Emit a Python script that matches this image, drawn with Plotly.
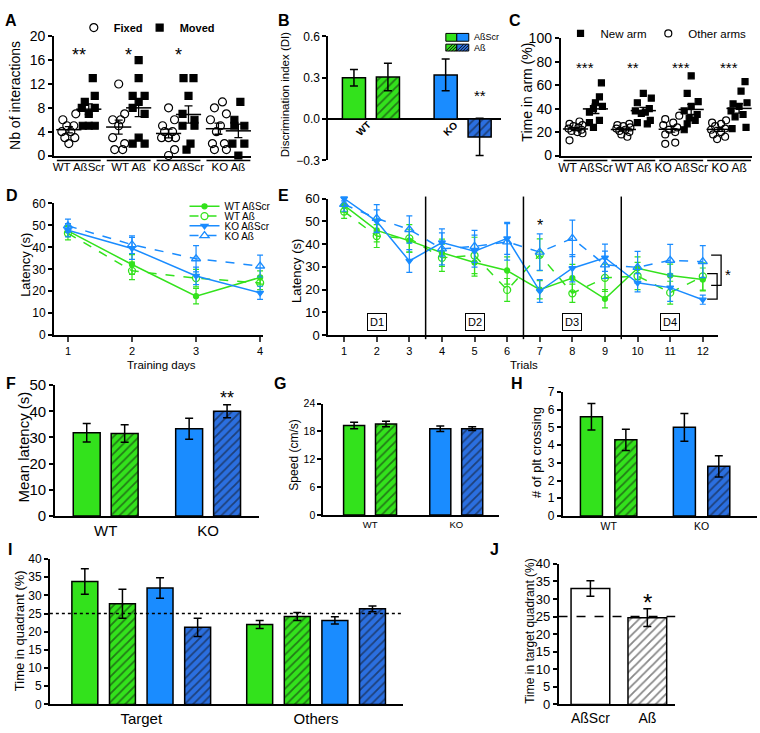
import numpy as np
import plotly.graph_objects as go

W, H = 760, 733
GREEN = "#33e21c"
BLUE = "#1a8cff"
BLUE_DARK = "#2b6fe0"
FONT = "Liberation Sans, Arial, sans-serif"

# ---------------- data ----------------
groups = ["WT AßScr", "WT Aß", "KO AßScr", "KO Aß"]

# A: nb of interactions, fixed vs moved object (one list per group)
a_fixed = [[7, 6, 5, 5, 4, 4, 3, 3, 2],
           [12, 7, 6, 6, 5, 3, 2, 1, 1],
           [8, 6, 5, 4, 4, 3, 3, 3, 1, 0],
           [9, 8, 7, 6, 5, 4, 2, 2, 1, 1]]
a_fixed_jit = [[0.35, -0.3, -0.1, 0.25, -0.35, 0.1, -0.2, 0.3, 0.0],
               [0.0, 0.3, -0.3, 0.1, 0.0, -0.3, 0.3, -0.2, 0.2],
               [0.0, 0.3, -0.3, -0.2, 0.2, -0.35, 0.0, 0.35, 0.3, 0.0],
               [0.2, -0.2, 0.4, -0.4, 0.1, -0.1, -0.3, 0.3, -0.2, 0.4]]
a_moved = [[13, 10, 9, 8, 8, 7, 5, 5, 5],
           [16, 13, 10, 10, 9, 8, 7, 3, 2, 2],
           [13, 13, 10, 7, 6, 5, 5, 2, 1],
           [9, 6, 5, 5, 2, 2, 0]]
a_moved_jit = [[0.2, 0.3, -0.2, -0.35, 0.3, 0.0, -0.3, 0.0, 0.3],
               [0.0, 0.0, -0.3, 0.3, 0.0, -0.3, 0.3, 0.0, -0.3, 0.3],
               [-0.25, 0.25, 0.0, -0.3, 0.3, -0.3, 0.3, 0.1, -0.1],
               [0.1, -0.2, 0.3, -0.2, -0.3, 0.3, 0.0]]
a_stars = ["**", "*", "*", ""]

# B: discrimination index
b_di = [0.30, 0.305, 0.32, -0.13]
b_sem = [0.06, 0.10, 0.115, 0.135]

# C: time in arm (%)
c_other = [[29, 27, 26, 25, 24, 23, 22, 21, 20, 19, 13],
           [27, 26, 25, 24, 23, 22, 21, 20, 18, 16],
           [34, 31, 28, 26, 24, 22, 20, 18, 11, 10],
           [30, 28, 27, 25, 23, 22, 20, 18, 16, 14]]
c_other_jit = [[0.2, -0.3, 0.35, -0.1, 0.15, -0.35, 0.3, -0.2, 0.1, 0.35, -0.3],
               [0.3, -0.3, 0.0, 0.35, -0.35, 0.1, -0.2, 0.3, -0.1, 0.2],
               [0.4, -0.3, 0.1, -0.4, 0.3, -0.1, 0.2, -0.3, 0.2, -0.3],
               [0.35, -0.35, 0.1, -0.2, 0.3, -0.4, 0.1, -0.3, 0.3, -0.1]]
c_new = [[62, 50, 45, 42, 40, 37, 30, 28, 24],
         [53, 49, 45, 40, 38, 37, 36, 30, 28, 27],
         [68, 53, 46, 42, 38, 35, 32, 30, 27, 22],
         [63, 55, 45, 44, 42, 38, 35, 33, 24, 23]]
c_new_jit = [[0.3, 0.2, 0.0, 0.35, -0.1, -0.3, 0.2, -0.3, -0.1],
             [0.0, 0.4, -0.3, 0.3, -0.4, 0.1, -0.1, 0.35, -0.3, 0.2],
             [0.0, -0.2, 0.35, 0.0, -0.35, 0.3, -0.1, 0.2, -0.2, -0.35],
             [0.3, 0.1, 0.4, -0.3, 0.0, -0.4, 0.2, -0.2, 0.35, -0.35]]
c_stars = ["***", "**", "***", "***"]

# D: latency per training day
days = [1, 2, 3, 4]
d_lat = [[47.5, 32.2, 17.8, 26.3],
         [46.4, 29.3, 26.0, 23.8],
         [47.8, 39.5, 27.0, 19.3],
         [49.8, 41.2, 34.8, 31.5]]
d_sem = [[2.5, 4.5, 3.5, 3.0],
         [3.0, 4.0, 4.0, 3.0],
         [3.0, 5.0, 4.0, 3.0],
         [3.0, 4.0, 6.0, 5.0]]

# E: latency per trial
trials = list(range(1, 13))
e_lat = [[57, 46, 41.5, 36.2, 31.9, 28.4, 20, 25.1, 16, 29.4, 26.2, 24.5],
         [54.3, 43.5, 42.5, 34, 35, 19.9, 35.3, 18.4, 25.2, 26, 18.7, 25.8],
         [60, 50, 32.6, 40.7, 36.9, 42.5, 19.4, 29.4, 34, 23, 20.9, 15.6],
         [57.4, 51.3, 46.4, 37.9, 39, 41, 36.5, 42.5, 30.9, 29.8, 32.9, 32.3]]
e_sem = [[3, 5, 5, 6, 6, 6, 4, 6, 4, 5, 5, 5],
         [3, 5, 6, 6, 8, 5, 7, 4, 6, 6, 5, 6],
         [1, 5, 5, 6, 7, 7, 5, 6, 6, 4, 6, 2],
         [3, 6, 6, 7, 7, 8, 8, 8, 6, 7, 7, 7]]
day_labels = ["D1", "D2", "D3", "D4"]

# F, G, H: bar panels
f_lat = [31.8, 31.5, 33.3, 40.0]
f_sem = [3.5, 3.3, 4.0, 2.5]
g_speed = [19.3, 19.6, 18.6, 18.6]
g_sem = [0.7, 0.6, 0.6, 0.4]
h_cross = [5.6, 4.3, 5.0, 2.8]
h_sem = [0.75, 0.6, 0.78, 0.6]

# I: time in quadrant
i_target = [33.8, 27.7, 32.0, 21.2]
i_target_sem = [3.5, 4.0, 2.8, 2.5]
i_others = [22.0, 24.2, 23.1, 26.3]
i_others_sem = [1.1, 1.1, 1.0, 0.8]

# J: time in target quadrant
j_cond = ["AßScr", "Aß"]
j_time = [33.0, 24.7]
j_sem = [2.2, 2.5]

# ---------------- layout helpers ----------------
def pxx(v):
    return v / W


def pxy(v):
    return 1 - v / H


# pixel box of each plot area + axis ranges
P = {
    1: dict(xd=(52, 250), yd=(150, 28), xr=(-0.75, 9.15), yr=(0, 20)),
    2: dict(xd=(327, 500), yd=(155, 28), xr=(-0.76, 4.32), yr=(-0.3, 0.6)),
    3: dict(xd=(560, 752), yd=(150, 30), xr=(-0.75, 8.85), yr=(0, 100)),
    4: dict(xd=(52, 262), yd=(334, 199), xr=(0.78, 4.05), yr=(0, 60)),
    5: dict(xd=(327, 718), yd=(334, 194), xr=(0.51, 12.47), yr=(0, 60)),
    6: dict(xd=(53, 258), yd=(519, 385), xr=(-0.84, 4.55), yr=(0, 50)),
    7: dict(xd=(322, 498), yd=(518, 404), xr=(-0.97, 4.53), yr=(0, 24)),
    8: dict(xd=(562, 757), yd=(519, 392), xr=(-0.84, 4.81), yr=(0, 7)),
    9: dict(xd=(48, 402), yd=(712, 563), xr=(-0.93, 8.46), yr=(0, 40)),
    10: dict(xd=(558, 675), yd=(712, 568), xr=(-0.56, 1.49), yr=(0, 40)),
}


def sfx(n):
    return "" if n == 1 else str(n)


def fx(n, v):
    p = P[n]
    x0, x1 = pxx(p["xd"][0]), pxx(p["xd"][1])
    return x0 + (v - p["xr"][0]) / (p["xr"][1] - p["xr"][0]) * (x1 - x0)


fig = go.Figure()
layout = dict(width=W, height=H, margin=dict(l=0, r=0, t=0, b=0),
              paper_bgcolor="white", plot_bgcolor="white", barmode="overlay",
              font=dict(family=FONT, color="black"), showlegend=True)

for n, p in P.items():
    s = sfx(n)
    layout["xaxis" + s] = dict(domain=[pxx(p["xd"][0]), pxx(p["xd"][1])], range=list(p["xr"]),
                               anchor="y" + s, showline=True, linecolor="black", linewidth=1.5,
                               showgrid=False, zeroline=False, ticks="", showticklabels=False,
                               fixedrange=True)
    layout["yaxis" + s] = dict(domain=[pxy(p["yd"][0]), pxy(p["yd"][1])], range=list(p["yr"]),
                               anchor="x" + s, showline=True, linecolor="black", linewidth=1.5,
                               showgrid=False, zeroline=False, ticks="outside", ticklen=4,
                               tickwidth=1.5, tickcolor="black", fixedrange=True)

ytick = {1: (4, 14), 2: (0.3, 12), 3: (20, 14), 4: (10, 12), 5: (10, 13),
         6: (10, 15), 7: (6, 10.5), 8: (1, 12), 9: (5, 12), 10: (5, 13)}
for n, (dt, sz) in ytick.items():
    layout["yaxis" + sfx(n)].update(dtick=dt, tick0=0, tickfont=dict(size=sz))
layout["yaxis2"].update(tickformat=".1f", zeroline=True, zerolinecolor="black", zerolinewidth=1.5)
layout["xaxis2"].update(showline=False)

A_STEP, C_STEP = 2.5, 2.4
BAR_X = [0, 1, 2.7, 3.7]

layout["xaxis"].update(showticklabels=True, tickvals=[g * A_STEP + 0.5 for g in range(4)],
                       ticktext=groups, tickfont=dict(size=11.5), ticklabelstandoff=0)
layout["xaxis3"].update(showticklabels=True, tickvals=[g * C_STEP + 0.5 for g in range(4)],
                        ticktext=groups, tickfont=dict(size=12), ticklabelstandoff=0)
layout["xaxis4"].update(showticklabels=True, tickvals=days, ticks="outside", ticklen=5,
                        tickwidth=1.5, tickfont=dict(size=11))
layout["xaxis5"].update(showticklabels=True, tickvals=trials, ticks="outside", ticklen=5,
                        tickwidth=1.5, tickfont=dict(size=11))
for n, sz in [(6, 15), (7, 9.5), (8, 10.5)]:
    layout["xaxis" + sfx(n)].update(showticklabels=True, tickvals=[0.5, 3.2],
                                    ticktext=["WT", "KO"], tickfont=dict(size=sz))
layout["xaxis9"].update(showticklabels=True, tickvals=[1.5, 6.15],
                        ticktext=["Target", "Others"], tickfont=dict(size=15),
                        ticklabelstandoff=0)
layout["xaxis10"].update(showticklabels=True, tickvals=[0, 1], ticktext=j_cond,
                         tickfont=dict(size=14), ticklabelstandoff=0)


def mean_sem(vals, x, n, width=18):
    v = np.array(vals, float)
    m, s = v.mean(), v.std(ddof=1) / np.sqrt(len(v))
    fig.add_trace(go.Scatter(
        x=[x], y=[m], mode="markers", showlegend=False, cliponaxis=False,
        marker=dict(symbol="line-ew-open", size=width, color="black",
                    line=dict(width=1.5, color="black")),
        error_y=dict(type="data", array=[s], color="black", thickness=1.3, width=4),
        xaxis="x" + sfx(n), yaxis="y" + sfx(n)))


def dots(vals, jit, x, n, symbol, size, name, legend, show):
    fig.add_trace(go.Scatter(
        x=[x + j for j in jit], y=vals, mode="markers", name=name, legend=legend,
        showlegend=show, cliponaxis=False,
        marker=dict(symbol=symbol, size=size, color="black", line=dict(width=1.2, color="black")),
        xaxis="x" + sfx(n), yaxis="y" + sfx(n)))


# ---- A ----
for g in range(4):
    dots(a_fixed[g], a_fixed_jit[g], g * A_STEP, 1, "circle-open", 8, "Fixed", "legend5", g == 0)
    dots(a_moved[g], a_moved_jit[g], g * A_STEP + 1, 1, "square", 7, "Moved", "legend6", g == 0)
    mean_sem(a_fixed[g], g * A_STEP, 1)
    mean_sem(a_moved[g], g * A_STEP + 1, 1)

# ---- C ----
for g in range(4):
    dots(c_new[g], c_new_jit[g], g * C_STEP + 1, 3, "square", 6, "New arm", "legend7", g == 0)
    dots(c_other[g], c_other_jit[g], g * C_STEP, 3, "circle-open", 7, "Other arms", "legend8", g == 0)
    mean_sem(c_other[g], g * C_STEP, 3)
    mean_sem(c_new[g], g * C_STEP + 1, 3)


def bar4(vals, sems, n, xs, width, colors, hatched):
    for x, v, s, c, h in zip(xs, vals, sems, colors, hatched):
        marker = dict(color=c, line=dict(color="black", width=1.5))
        if h:
            marker["pattern"] = dict(shape="/", fillmode="overlay", fgcolor="#111111",
                                     size=6, solidity=0.3)
        fig.add_trace(go.Bar(
            x=[x], y=[v], width=width, marker=marker, showlegend=False,
            error_y=dict(type="data", array=[s], color="black", thickness=1.5, width=4),
            xaxis="x" + sfx(n), yaxis="y" + sfx(n)))


COLS4 = [GREEN, GREEN, BLUE, BLUE_DARK]
HATCH4 = [False, True, False, True]
bar4(b_di, b_sem, 2, BAR_X, 0.68, COLS4, HATCH4)
bar4(f_lat, f_sem, 6, BAR_X, 0.71, COLS4, HATCH4)
bar4(g_speed, g_sem, 7, BAR_X, 0.66, COLS4, HATCH4)
bar4(h_cross, h_sem, 8, BAR_X, 0.64, COLS4, HATCH4)
bar4(i_target, i_target_sem, 9, [0, 1, 2, 3], 0.69, COLS4, HATCH4)
bar4(i_others, i_others_sem, 9, [4.65, 5.65, 6.65, 7.65], 0.69, COLS4, HATCH4)
bar4(j_time, j_sem, 10, [0, 1], 0.68, ["white", "white"], [False, True])

# ---- D and E line panels ----
LINE_STYLE = [
    dict(color=GREEN, dash="solid", symbol="circle", size=5),
    dict(color=GREEN, dash="dash", symbol="circle-open", size=7),
    dict(color=BLUE, dash="solid", symbol="triangle-down", size=6),
    dict(color=BLUE, dash="dash", symbol="triangle-up-open", size=8),
]
d_legends = ["legend", "legend2", "legend3", "legend4"]
for k in range(4):
    st = LINE_STYLE[k]
    common = dict(mode="lines+markers", name=groups[k], cliponaxis=False,
                  line=dict(color=st["color"], dash=st["dash"], width=1.5),
                  marker=dict(symbol=st["symbol"], size=st["size"], color=st["color"],
                              line=dict(width=1.3, color=st["color"])))
    fig.add_trace(go.Scatter(x=days, y=d_lat[k], legend=d_legends[k], showlegend=True,
                             error_y=dict(type="data", array=d_sem[k], color=st["color"],
                                          thickness=1.2, width=3),
                             xaxis="x4", yaxis="y4", **common))
    fig.add_trace(go.Scatter(x=trials, y=e_lat[k], showlegend=False,
                             error_y=dict(type="data", array=e_sem[k], color=st["color"],
                                          thickness=1.2, width=3),
                             xaxis="x5", yaxis="y5", **common))

# legends (one entry each so they can sit tight like the original)
for i, name in enumerate(d_legends):
    layout[name] = dict(x=pxx(183), y=pxy(202 + 10 * i), xanchor="left", yanchor="middle",
                        bgcolor="rgba(0,0,0,0)", font=dict(size=10), itemwidth=30)
for name, x, y, font in [("legend5", 72, 19, dict(size=11, weight="bold")),
                         ("legend6", 138, 19, dict(size=11, weight="bold")),
                         ("legend7", 560, 25, dict(size=11.5)),
                         ("legend8", 648, 25, dict(size=11.5))]:
    layout[name] = dict(x=pxx(x), y=pxy(y), xanchor="left", yanchor="middle",
                        bgcolor="rgba(0,0,0,0)", font=font, itemwidth=30)

# ---------------- annotations ----------------
ann = []


def note(text, x, y, size, **kw):
    d = dict(text=text, x=pxx(x), y=pxy(y), xref="paper", yref="paper", xanchor="center",
             yanchor="middle", showarrow=False, font=dict(size=size))
    d.update(kw)
    ann.append(d)


for letter, x, y in [("A", 9, 12), ("B", 283, 12), ("C", 514, 12), ("D", 10, 191),
                     ("E", 282, 191), ("F", 9, 383), ("G", 279, 383), ("H", 516, 383),
                     ("I", 8, 553), ("J", 494, 553)]:
    note(letter, x, y, 16, font=dict(size=16, weight="bold"))

for text, x, y, sz in [("Nb of interactions", 13, 88, 14),
                       ("Discrimination index (DI)", 284, 88, 11.5),
                       ("Time in arm (%)", 526, 85, 14),
                       ("Latency (s)", 24, 262, 13),
                       ("Latency (s)", 296, 268, 13),
                       ("Mean latency (s)", 22, 448, 15),
                       ("Speed (cm/s)", 293, 457, 12),
                       ("# of plt crossing", 536, 454, 13),
                       ("Time in quadrant (%)", 17, 636, 13),
                       ("Time in target quadrant (%)", 530, 637, 12)]:
    note(text, x, y, sz, textangle=-90)

note("Training days", 160, 364, 11.5)
note("Trials", 523, 364, 11.5)
note("*", 728, 272, 15)
note("AßScr", 471, 29, 9, xanchor="left")
note("Aß", 471, 40, 9, xanchor="left")

for g, st in enumerate(a_stars):
    if st:
        ann.append(dict(text=st, x=g * A_STEP + 0.5, y=16.8, xref="x", yref="y",
                        showarrow=False, font=dict(size=18)))
for g, st in enumerate(c_stars):
    ann.append(dict(text=st, x=g * C_STEP + 0.5, y=75, xref="x3", yref="y3",
                    showarrow=False, font=dict(size=15)))
ann.append(dict(text="**", x=BAR_X[3], y=0.17, xref="x2", yref="y2", showarrow=False,
                font=dict(size=15)))
ann.append(dict(text="**", x=BAR_X[3], y=45, xref="x6", yref="y6", showarrow=False,
                font=dict(size=18)))
ann.append(dict(text="*", x=7, y=48, xref="x5", yref="y5", showarrow=False,
                font=dict(size=16)))
ann.append(dict(text="*", x=1, y=29, xref="x10", yref="y10", showarrow=False,
                font=dict(size=24)))

for lab, x in zip(["WT", "KO"], [0.29, 2.85]):
    ann.append(dict(text=lab, x=x, y=-0.07, xref="x2", yref="y2", textangle=-45,
                    showarrow=False, font=dict(size=10, weight="bold")))

for i, lab in enumerate(day_labels):
    ann.append(dict(text=lab, x=2 + 3 * i, y=6, xref="x5", yref="y5", showarrow=False,
                    font=dict(size=11), bordercolor="black", borderwidth=1, borderpad=2,
                    bgcolor="white"))
layout["annotations"] = ann

# ---------------- shapes ----------------
shapes = []
LINE = dict(color="black", width=1.5)
for g in range(4):
    c = g * A_STEP + 0.5
    shapes.append(dict(type="line", xref="paper", yref="paper", x0=fx(1, c - 1.1),
                       x1=fx(1, c + 1.1), y0=pxy(155), y1=pxy(155), line=LINE))
    c = g * C_STEP + 0.5
    shapes.append(dict(type="line", xref="paper", yref="paper", x0=fx(3, c - 1.1),
                       x1=fx(3, c + 1.1), y0=pxy(155), y1=pxy(155), line=LINE))

for sep in [3.5, 6.5, 9.5]:
    shapes.append(dict(type="line", xref="paper", yref="paper", x0=fx(5, sep), x1=fx(5, sep),
                       y0=pxy(338), y1=pxy(192), line=LINE))

# significance brackets at the end of E
for xv, y0, y1 in [(721, 252, 283), (717, 271, 297)]:
    shapes.append(dict(type="path", xref="paper", yref="paper", line=dict(color="black", width=1.3),
                       path=f"M {pxx(xv - 10)} {pxy(y0)} L {pxx(xv)} {pxy(y0)} "
                            f"L {pxx(xv)} {pxy(y1)} L {pxx(xv - 10)} {pxy(y1)}"))

# reference lines at 25 %
shapes.append(dict(type="line", xref="x9 domain", yref="y9", x0=0, x1=1, y0=25, y1=25,
                   line=dict(color="black", width=1.3, dash="dot")))
shapes.append(dict(type="line", xref="x10 domain", yref="y10", x0=0, x1=1, y0=25, y1=25,
                   line=dict(color="black", width=1.5, dash="dash")))

# B legend swatches
for row, (y0, y1) in enumerate([(25, 33), (36, 43)]):
    for x0, x1, col in [(445, 456, GREEN), (456, 468, BLUE if row == 0 else BLUE_DARK)]:
        shapes.append(dict(type="rect", xref="paper", yref="paper", x0=pxx(x0), x1=pxx(x1),
                           y0=pxy(y1), y1=pxy(y0), fillcolor=col,
                           line=dict(color="black", width=1)))
        if row == 1:
            for k in range(0, 12, 3):
                xe = min(x0 + k + 7, x1)
                shapes.append(dict(type="line", xref="paper", yref="paper",
                                   x0=pxx(x0 + k), y0=pxy(y1), x1=pxx(xe),
                                   y1=pxy(y1 - (xe - x0 - k)),
                                   line=dict(color="#111111", width=1)))
layout["shapes"] = shapes

fig.update_layout(**layout)
fig.write_html("out.html", config={"displayModeBar": False},
               post_script="document.body.style.margin='0';")
